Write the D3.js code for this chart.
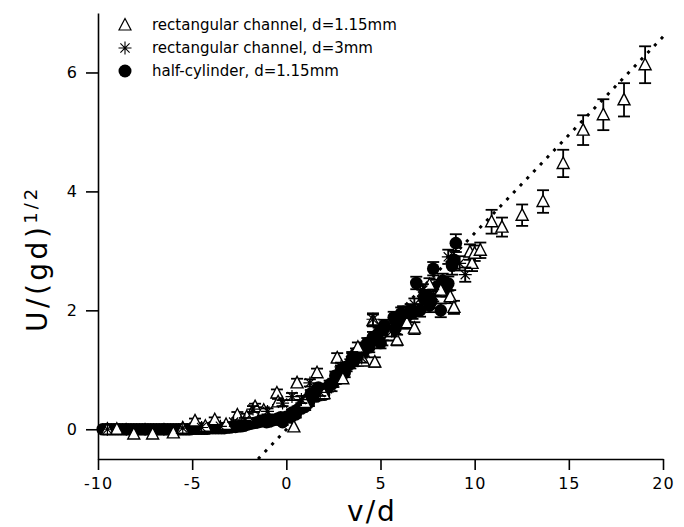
<!DOCTYPE html>
<html><head><meta charset="utf-8">
<script src="https://cdn.jsdelivr.net/npm/d3@7"></script>
<style>body{margin:0;background:#fff}svg{display:block}</style>
</head><body>
<svg id="chart" width="684" height="527"></svg>
<script>
// ---- data ----
const xTicks = [-10, -5, 0, 5, 10, 15, 20];
const yTicks = [0, 2, 4, 6];
const legendLabels = ["rectangular channel, d=1.15mm", "rectangular channel, d=3mm", "half-cylinder, d=1.15mm"];

// half-cylinder, d=1.15mm (filled circles)
const cirX = [-9.75,-9.6,-9.45,-9.3,-9.15,-9.0,-8.85,-8.7,-8.55,-8.4,-8.25,-8.1,-7.95,-7.8,-7.65,-7.5,-7.35,-7.2,-7.05,-6.9,-6.75,-6.6,-6.45,-6.3,-6.15,-6.0,-5.85,-5.7,-5.55,-5.4,-5.25,-5.1,-4.95,-4.8,-4.65,-4.5,-4.35,-4.2,-4.05,-3.9,-3.75,-3.6,-3.45,-3.3,-3.15,-3.0,-2.85,-2.7,-2.55,-2.4,-2.25,-2.1,-1.95,-1.8,-1.65,-1.5,-1.35,-1.2,-1.05,-0.9,-0.75,-0.6,-0.45,-0.3,-0.2,0.0,0.2,0.3,0.5,0.6,0.8,0.9,1.0,1.1,1.2,1.3,1.5,1.6,1.7,1.9,2.0,2.2,2.3,2.5,2.6,2.8,2.9,3.1,3.2,3.4,3.5,3.7,3.8,4.0,4.1,4.3,4.4,4.6,4.7,4.9,5.0,5.2,5.3,5.5,5.7,5.8,6.0,6.1,6.3,6.4,6.6,6.7,6.9,7.1,7.3,7.4,7.6,7.7,7.8,8.0,8.2,8.3,8.5,8.6,8.8,8.9,9.0];
const cirY = [0,0,0,0,0,0,0,0,0,0,0,0,0,0,0,0,0,0,0,0,0,0,0,0,0,0,0,0,0,0,0,0,0.01,0.01,0.01,0.01,0.01,0.01,0.02,0.02,0.02,0.02,0.02,0.02,0.03,0.03,0.04,0.04,0.05,0.05,0.06,0.08,0.09,0.1,0.11,0.12,0.13,0.15,0.12,0.13,0.15,0.16,0.18,0.2,0.12,0.21,0.2,0.28,0.25,0.33,0.35,0.42,0.38,0.5,0.45,0.6,0.62,0.55,0.7,0.62,0.58,0.7,0.75,0.78,0.9,0.85,1.0,0.95,1.05,1.1,1.2,1.28,1.15,1.35,1.3,1.45,1.38,1.55,1.5,1.62,1.45,1.75,1.68,1.6,1.88,1.7,1.8,1.95,1.85,1.9,2.0,1.96,2.46,2.0,2.2,2.3,2.08,2.15,2.7,2.4,2.0,2.5,2.35,2.45,2.75,2.85,3.13];
const cirErr = cirX.map((v, i) => v < -0.4 ? 0 : (v > 8.7 ? 0.15 : 0.05 + 0.008 * v));

// rectangular channel, d=1.15mm (open triangles)
const triX = [-9.5,-9.0,-8.1,-7.1,-6.0,-5.5,-4.85,-4.3,-3.8,-3.2,-2.6,-2.1,-1.66,-1.2,-0.5,-0.44,0.4,0.57,1.0,1.63,2.0,2.7,3.0,3.8,4.1,4.6,4.7,5.5,5.88,6.4,6.8,7.6,8.2,8.7,8.9,9.75,9.86,10.0,10.3,10.9,11.45,12.52,13.63,14.7,15.76,16.83,17.93,19.05];
const triY = [0,0,-0.08,-0.08,-0.06,0.02,0.14,0.05,0.16,0.08,0.24,0.21,0.38,0.32,0.61,0.46,0.04,0.78,0.45,0.95,0.6,1.2,0.85,1.38,1.15,1.83,1.13,1.58,1.5,1.79,1.7,2.43,2.34,2.23,2.05,2.98,2.79,2.96,3.01,3.49,3.4,3.6,3.83,4.47,5.03,5.29,5.54,6.13];
const triErr = [0,0,0,0,0,0,0.04,0,0.04,0,0.05,0.05,0.05,0.05,0.06,0.05,0,0.07,0.06,0.07,0.06,0.08,0.07,0.08,0.08,0.1,0.08,0.09,0.09,0.1,0.1,0.11,0.11,0.11,0.11,0.13,0.13,0.13,0.13,0.2,0.16,0.18,0.19,0.23,0.25,0.26,0.28,0.31];

// rectangular channel, d=3mm (asterisks)
const starX = [-9.5,-8.5,-7.5,-6.5,-5.5,-4.5,-3.5,-2.8,-2.2,-1.77,-1.0,-0.2,0.3,0.8,1.25,1.8,2.4,2.9,3.5,4.0,4.6,5.1,5.6,6.2,6.8,7.25,7.8,8.6,9.2,9.5];
const starY = [0,0,0,0,0.02,0.03,0.05,0.12,0.15,0.34,0.3,0.44,0.55,0.5,0.78,0.62,0.71,1.05,1.22,1.2,1.85,1.5,1.65,1.97,2.1,2.34,2.25,2.9,2.79,2.6];
const starErr = [0,0,0,0,0,0,0,0,0.04,0.05,0.05,0.05,0.06,0.06,0.06,0.06,0.07,0.07,0.08,0.08,0.1,0.09,0.09,0.1,0.1,0.1,0.1,0.12,0.12,0.12];

// dotted reference line
const lineX = [-1.5, 20];
const lineY = [-0.5, 6.6];

// ---- chart ----
const svg = d3.select("#chart");
const x = d3.scaleLinear().domain([-10, 20]).range([98, 663]);
const y = d3.scaleLinear().domain([-0.5, 7]).range([459, 13]);
const FONT = "'DejaVu Sans', Verdana, sans-serif";

// axes
const xAxis = svg.append("g").attr("transform", `translate(0,${y(-0.5)})`)
  .call(d3.axisBottom(x).tickValues(xTicks).tickSize(11).tickSizeOuter(0).tickPadding(8).tickFormat(d3.format("d")));
const yAxis = svg.append("g").attr("transform", `translate(${x(-10)},0)`)
  .call(d3.axisLeft(y).tickValues(yTicks).tickSize(12).tickSizeOuter(0).tickPadding(8).tickFormat(d3.format("d")));
[xAxis, yAxis].forEach(g => {
  g.select(".domain").attr("stroke", "#000").attr("stroke-width", 1.6);
  g.selectAll(".tick line").attr("stroke", "#000").attr("stroke-width", 1.6);
  g.selectAll(".tick text").attr("fill", "#000").style("font-family", FONT).style("font-size", "16px").style("letter-spacing", "1px");
});
xAxis.selectAll(".tick text").text(d => d < 0 ? "-" + Math.abs(d) : d);

// dotted line
svg.append("path")
  .attr("d", d3.line().x((d, i) => x(lineX[i])).y((d, i) => y(lineY[i]))(lineX))
  .attr("fill", "none").attr("stroke", "#000").attr("stroke-width", 3)
  .attr("stroke-dasharray", "3,6.7");

function errorBars(xs, ys, es) {
  const g = svg.append("g").attr("stroke", "#000").attr("stroke-width", 1.8);
  xs.forEach((xv, i) => {
    const e = es[i];
    if (!e) return;
    const cx = x(xv), t = y(ys[i] + e), b = y(ys[i] - e);
    g.append("line").attr("x1", cx).attr("x2", cx).attr("y1", t).attr("y2", b);
    g.append("line").attr("x1", cx - 6).attr("x2", cx + 6).attr("y1", t).attr("y2", t);
    g.append("line").attr("x1", cx - 6).attr("x2", cx + 6).attr("y1", b).attr("y2", b);
  });
}

const triPath = "M0,-6.5L6,5L-6,5Z";
const starPath = "M0,-6.5V6.5M-6.5,0H6.5M-4.6,-4.6L4.6,4.6M-4.6,4.6L4.6,-4.6";

// circles
errorBars(cirX, cirY, cirErr);
svg.append("g").selectAll("circle").data(cirX).join("circle")
  .attr("cx", (d) => x(d)).attr("cy", (d, i) => y(cirY[i])).attr("r", 6.3).attr("fill", "#000");

// triangles
errorBars(triX, triY, triErr);
svg.append("g").selectAll("path").data(triX).join("path")
  .attr("transform", (d, i) => `translate(${x(d)},${y(triY[i])})`)
  .attr("d", triPath).attr("fill", "#fff").attr("stroke", "#000").attr("stroke-width", 1.4);

// asterisks
errorBars(starX, starY, starErr);
svg.append("g").selectAll("path").data(starX).join("path")
  .attr("transform", (d, i) => `translate(${x(d)},${y(starY[i])})`)
  .attr("d", starPath).attr("fill", "none").attr("stroke", "#000").attr("stroke-width", 1.2);

// legend
const legY = [25, 48, 71];
const lg = svg.append("g");
lg.append("path").attr("transform", `translate(125,${legY[0]})`).attr("d", triPath)
  .attr("fill", "#fff").attr("stroke", "#000").attr("stroke-width", 1.2);
lg.append("path").attr("transform", `translate(125,${legY[1]})`).attr("d", starPath)
  .attr("fill", "none").attr("stroke", "#000").attr("stroke-width", 1.1);
lg.append("circle").attr("cx", 125).attr("cy", legY[2]).attr("r", 6.5).attr("fill", "#000");
legendLabels.forEach((t, i) => {
  lg.append("text").attr("x", 152).attr("y", legY[i]).attr("dy", "0.35em")
    .style("font-family", FONT).style("font-size", "15px").text(t);
});

// axis titles
svg.append("text").attr("x", 372).attr("y", 521).attr("text-anchor", "middle")
  .style("font-family", FONT).style("font-size", "28px").style("letter-spacing", "2px").text("v/d");
const yt = svg.append("text").attr("transform", "translate(47,332) rotate(-90)")
  .style("font-family", FONT).style("font-size", "28px").style("letter-spacing", "3.5px");
yt.append("tspan").text("U/(gd)");
yt.append("tspan").attr("dy", -10).style("font-size", "18px").style("letter-spacing", "3px").text("1/2");
</script>
</body></html>
